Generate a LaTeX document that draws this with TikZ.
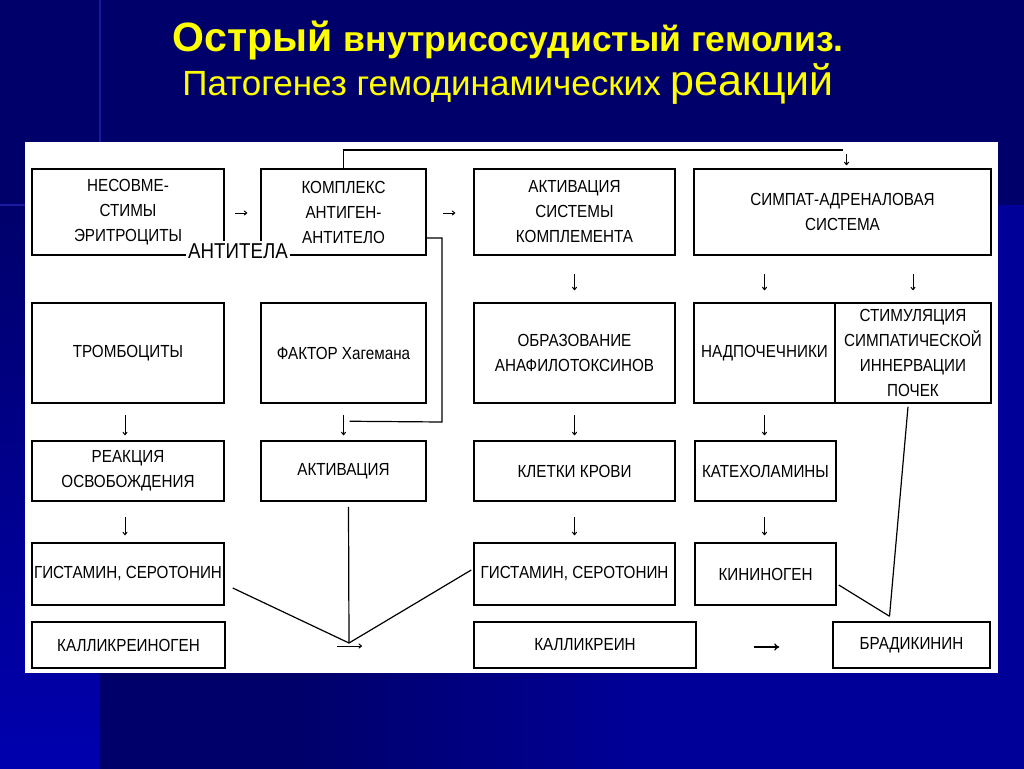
\documentclass[tikz,border=0pt]{standalone}
\usepackage{fontspec}
\setmainfont{Liberation Sans}
\newfontfamily\boxfont[FakeStretch=0.87]{Liberation Sans}
\usetikzlibrary{arrows.meta,calc}
\definecolor{navy}{HTML}{00006B}
\definecolor{midblue}{HTML}{000098}
\definecolor{litblue}{HTML}{0000B0}
\definecolor{lineblue}{HTML}{2A2AC8}
\definecolor{ttl}{HTML}{FFFF00}
\tikzset{
  box/.style n args={2}{draw=black, line width=1.5pt, fill=white, align=center,
    inner sep=0pt, minimum width=#1pt, minimum height=#2pt,
    font=\boxfont\fontsize{17.5}{25}\selectfont},
  conn/.style={draw=black, line width=1.2pt},
  garr/.style={draw=black, line width=1pt, -{To[length=3.5pt,width=5pt]}},
  bigarr/.style={draw=black, line width=1.3pt, -{To[length=5pt,width=7pt]}},
  ttlnode/.style={text=ttl, anchor=base, inner sep=0pt}
}
\begin{document}
\begin{tikzpicture}[x=1pt,y=-1pt]
\useasboundingbox (0,0) rectangle (1024,768);
% background
\fill[navy] (-10,-10) rectangle (1034,780);
\shade[top color=navy, bottom color=litblue] (-10,205) rectangle (100,780);
\shade[left color=navy, right color=midblue] (300,673) rectangle (650,780);
\fill[midblue] (649,673) rectangle (1034,780);
\fill[midblue] (998,205) rectangle (1034,780);
\draw[lineblue, line width=1.2pt, opacity=0.6] (100,-5) -- (100,142);
\draw[lineblue, line width=1.2pt, opacity=0.6] (-5,205) -- (25,205);
% panel
\fill[white] (25,142) rectangle (998,673);

% title
\node[ttlnode] (title1) at (508,52) {\fontsize{41}{41}\selectfont\bfseries Острый \fontsize{35.5}{36}\selectfont внутрисосудистый гемолиз.};
\node[ttlnode] (title2) at (508,95) {\fontsize{35}{36}\selectfont Патогенез гемодинамических \fontsize{43}{44}\selectfont реакций};

% row 1
\node[box={192}{86}] (n1) at (128,212) {НЕСОВМЕ-\\СТИМЫ\\ЭРИТРОЦИТЫ};
\node[box={165}{86}] (n2) at (343.5,212) {КОМПЛЕКС\\АНТИГЕН-\\АНТИТЕЛО};
\node[box={201}{86}] (n3) at (574.5,212) {АКТИВАЦИЯ\\СИСТЕМЫ\\КОМПЛЕМЕНТА};
\node[box={297}{86}] (n4) at (842.5,212) {СИМПАТ-АДРЕНАЛОВАЯ\\СИСТЕМА};
% row 2
\node[box={192}{100}] (m1) at (128,353) {ТРОМБОЦИТЫ};
\node[box={165}{100}] (m2) at (343.5,353) {ФАКТОР Хагемана};
\node[box={201}{100}] (m3) at (574.5,353) {ОБРАЗОВАНИЕ\\АНАФИЛОТОКСИНОВ};
\node[box={141}{100}] (m4) at (764.5,353) {НАДПОЧЕЧНИКИ};
\node[box={156}{100}] (m5) at (913,353) {СТИМУЛЯЦИЯ\\СИМПАТИЧЕСКОЙ\\ИННЕРВАЦИИ\\ПОЧЕК};
% row 3
\node[box={192}{60}] (r1) at (128,471) {РЕАКЦИЯ\\ОСВОБОЖДЕНИЯ};
\node[box={165}{60}] (r2) at (343.5,471) {АКТИВАЦИЯ};
\node[box={201}{60}] (r3) at (574.5,471) {КЛЕТКИ КРОВИ};
\node[box={141}{60}] (r4) at (765.5,471) {КАТЕХОЛАМИНЫ};
% row 4
\node[box={192}{62}] (s1) at (128,574) {ГИСТАМИН, СЕРОТОНИН};
\node[box={201}{62}] (s3) at (574.5,574) {ГИСТАМИН, СЕРОТОНИН};
\node[box={141}{62}] (s4) at (765.5,574) {КИНИНОГЕН};
% row 5
\node[box={193}{46}] (t1) at (128.5,645) {КАЛЛИКРЕИНОГЕН};
\node[box={222}{46}] (t3) at (585,645) {КАЛЛИКРЕИН};
\node[box={157}{46}] (t5) at (911.5,645) {БРАДИКИНИН};

% antitela label over the joining line
\draw[line width=1.5pt] (n1.south east) -- (n2.south west);
\node[fill=white, inner xsep=2pt, inner ysep=1pt, text height=16pt, text depth=0pt,
      font=\boxfont\fontsize{21.5}{22}\selectfont] (ab) at (238,250) {АНТИТЕЛА};

% horizontal glyph arrows, row 1
\draw[garr] ($(n1.east)+(10,1)$) -- ($(n2.west)+(-13,1)$);
\draw[garr] ($(n2.east)+(16,1)$) -- ($(n3.west)+(-18,1)$);

% top connector
\draw[conn] (n2.north) |- (n4.north |- 0,150);
\draw[garr] ($(n4.north)+(4,-14)$) -- ($(n4.north)+(4,-3)$);

% right connector from complex to activation
\draw[conn] (n2.east |- 0,238) -| (442,422) -- ($(r2.north)+(6,-19)$);

% down arrows
\draw[garr] ($(n3.south)+(0,18)$) -- ($(m3.north)+(0,-12)$);
\draw[garr] ($(n4.south -| m4.north)+(0,18)$) -- ($(m4.north)+(0,-12)$);
\draw[garr] ($(n4.south -| m5.north)+(0,18)$) -- ($(m5.north)+(0,-12)$);

\draw[garr] ($(m1.south)+(-3,11)$) -- ($(r1.north)+(-3,-5)$);
\draw[garr] ($(m2.south)+(0,11)$) -- ($(r2.north)+(0,-5)$);
\draw[garr] ($(m3.south)+(0,11)$) -- ($(r3.north)+(0,-5)$);
\draw[garr] ($(m4.south)+(0,11)$) -- ($(r4.north)+(-1,-5)$);

\draw[garr] ($(r1.south)+(-3,15)$) -- ($(s1.north)+(-3,-7)$);
\draw[garr] ($(r3.south)+(0,15)$) -- ($(s3.north)+(0,-7)$);
\draw[garr] ($(r4.south)+(-1,15)$) -- ($(s4.north)+(-1,-7)$);

% converging lines to kallikreinogen arrow
\coordinate (conv) at (349,643);
\draw[conn] ($(s1.east)+(8,14)$) -- (conv);
\draw[conn] ($(r2.south)+(5,5)$) -- (conv);
\draw[conn] ($(s3.west)+(-2,-4)$) -- (conv);
\draw[garr] ($(conv)+(-12,3)$) -- ($(conv)+(13,3)$);

% bradykinin inputs
\coordinate (bk) at ($(t5.north)+(-22,-5)$);
\draw[conn] ($(s4.east)+(2,11)$) -- (bk);
\draw[conn] ($(m5.south)+(-5,3)$) -- (bk);

% kallikrein -> bradykinin
\draw[bigarr] ($(t3.east)+(57,2)$) -- ($(t5.west)+(-53,2)$);
\end{tikzpicture}
\end{document}
